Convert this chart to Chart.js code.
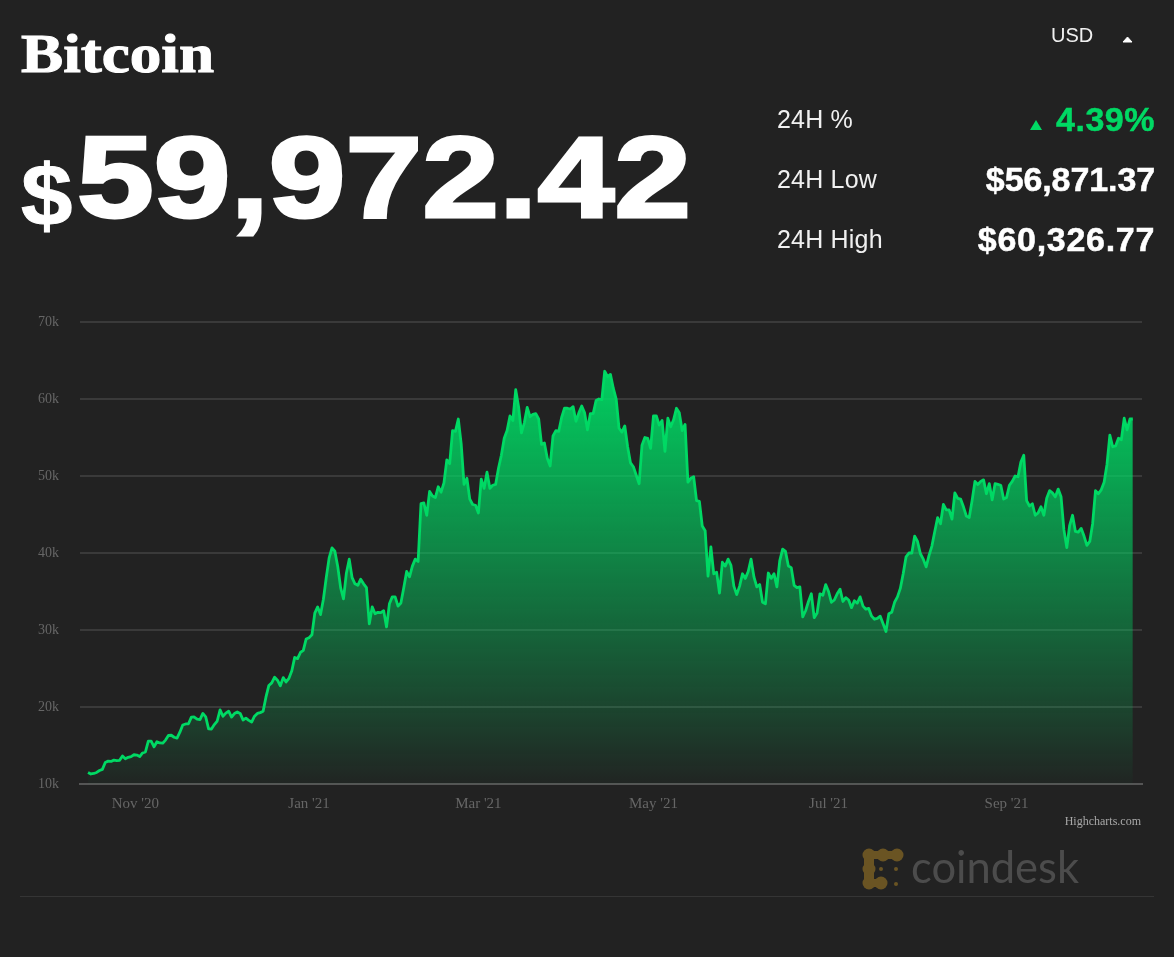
<!DOCTYPE html>
<html>
<head>
<meta charset="utf-8">
<title>Bitcoin</title>
<script src="https://cdn.jsdelivr.net/npm/chart.js@4"></script>
<style>
    html, body { margin: 0; padding: 0; background: #222222; }
    body { width: 1174px; height: 957px; position: relative; overflow: hidden; font-family: "Liberation Sans", sans-serif; color: #fff; }
    .txt { position: absolute; white-space: nowrap; line-height: 1; }
    .right { text-align: right; }
    .label { left: 777px; font-size: 25px; letter-spacing: 0.2px; color: #f0f0f0; }
    .value { right: 19px; font-size: 34px; font-weight: bold; -webkit-text-stroke: 0.5px currentColor; }
    canvas { position: absolute; left: 0; top: 0; }
    svg { position: absolute; }
    #rule { position: absolute; left: 20px; top: 896px; width: 1134px; height: 1px; background: #353535; }
</style>
</head>
<body>
<canvas id="priceChart" width="1174" height="957"></canvas>

<div class="txt" style="left:21px;top:27px;font-family:'Liberation Serif',serif;font-weight:bold;font-size:54px;-webkit-text-stroke:1px #fff;transform:scaleX(1.17);transform-origin:left top;">Bitcoin</div>
<div class="txt" style="left:21px;top:152px;font-weight:bold;font-size:88px;-webkit-text-stroke:1px #fff;transform:scaleX(1.05);transform-origin:left top;">$</div>
<div class="txt" style="left:77px;top:120px;font-weight:bold;font-size:115px;-webkit-text-stroke:3px #fff;transform:scaleX(1.2);transform-origin:left top;">59,972.42</div>

<div class="txt" style="left:1051px;top:25px;font-size:20px;color:#f0f0f0;">USD</div>
<svg style="left:1120px;top:35px" width="16" height="10"><path d="M3 7 L7.5 2 L12 7 Z" fill="#fff" stroke="#fff" stroke-linejoin="round"/></svg>

<div class="txt label" style="top:107px;">24H %</div>
<div class="txt label" style="top:167px;">24H Low</div>
<div class="txt label" style="top:227px;">24H High</div>

<svg style="left:1029px;top:119px" width="14" height="12"><path d="M1 11 L7 1 L13 11 Z" fill="#00d964"/></svg>
<div class="txt value right" style="top:102px;color:#00d964;letter-spacing:0.5px;">4.39%</div>
<div class="txt value right" style="top:162px;letter-spacing:-0.1px;">$56,871.37</div>
<div class="txt value right" style="top:222px;letter-spacing:0.7px;">$60,326.77</div>

<div class="txt right" style="right:33px;top:815px;font-family:'Liberation Serif',serif;font-size:12px;color:#a8a8a8;">Highcharts.com</div>

<svg style="left:860px;top:846px" width="48" height="46">
    <g fill="#6a5423">
        <circle cx="9" cy="9" r="6.5"/><circle cx="23" cy="9" r="6.5"/><circle cx="37" cy="9" r="6.5"/>
        <rect x="9" y="5" width="28" height="8"/>
        <circle cx="9" cy="23" r="6.5"/><circle cx="9" cy="37" r="6.5"/><circle cx="21" cy="37" r="6.5"/>
        <rect x="4" y="9" width="10" height="28"/><rect x="9" y="33" width="12" height="8"/>
        <circle cx="21" cy="23" r="2"/><circle cx="36" cy="23" r="2"/><circle cx="36" cy="38" r="2"/>
    </g>
</svg>
<div class="txt" style="left:911px;top:845px;font-family:'Lato',sans-serif;font-size:43.5px;color:#4c4c4c;">coindesk</div>
<div id="rule"></div>

<script>
// Daily price in thousands of USD (15 Oct 2020 onward)
const prices = [
    11.5, 11.3, 11.37, 11.5, 11.75, 11.9, 12.8, 12.97, 12.93, 13.1, 13.03, 13.07, 13.65, 13.27, 13.46, 13.56, 13.8,
    13.76, 13.56, 14.03, 14.16, 15.58, 15.58, 14.83, 15.48, 15.33, 15.3, 15.7, 16.3, 16.33, 16.07, 15.97, 16.73, 17.66, 17.8, 17.82, 18.68, 18.7, 18.42, 18.37, 19.16, 18.72, 17.15, 17.14, 17.72, 18.18, 19.63,
    18.8, 19.2, 19.45, 18.7, 19.15, 19.36, 19.17, 18.32, 18.55, 18.26, 18.05, 18.8, 19.17, 19.27, 19.44, 21.31, 22.8, 23.13, 23.87, 23.48, 22.75, 23.82, 23.25, 23.73, 24.7, 26.44, 26.28, 27.08, 27.36, 28.84, 29.0,
    29.37, 32.2, 33.0, 32.0, 33.99, 36.82, 39.37, 40.67, 40.24, 38.24, 35.5, 34.05, 37.37, 39.19, 36.8, 36.0, 35.8, 36.6, 36.0, 35.5, 30.8, 33.0, 32.1, 32.3, 32.25, 32.5, 30.4, 33.4, 34.3, 34.3, 33.1,
    33.5, 35.5, 37.6, 36.9, 38.3, 39.2, 38.9, 46.4, 46.5, 44.9, 48.0, 47.4, 47.2, 48.6, 47.9, 49.1, 52.1, 51.6, 55.9, 55.8, 57.4, 54.2, 48.9, 49.7, 47.0, 46.3, 46.2, 45.2,
    49.6, 48.4, 50.5, 48.4, 48.8, 48.9, 51.0, 52.7, 54.9, 55.9, 57.8, 57.2, 61.2, 59.0, 55.6, 56.9, 58.9, 57.7, 58.0, 58.1, 57.4, 54.1, 54.3, 52.3, 51.3, 55.2, 55.9, 55.8, 57.6, 58.8, 58.8,
    58.7, 59.0, 57.1, 58.2, 59.1, 58.2, 56.0, 58.1, 58.1, 59.8, 60.0, 59.9, 63.6, 62.9, 63.2, 61.4, 60.0, 56.2, 55.7, 56.5, 53.8, 51.7, 51.2, 50.1, 49.0, 54.0, 55.0, 54.9, 53.6, 57.8,
    57.8, 56.6, 57.2, 53.2, 57.5, 56.4, 57.3, 58.8, 58.2, 55.9, 56.7, 49.2, 49.7, 49.9, 46.8, 46.7, 43.5, 42.9, 37.0, 40.8, 37.3, 37.5, 34.8, 38.8, 38.3, 39.2, 38.4, 35.7, 34.6, 35.7, 37.3,
    36.7, 37.6, 39.2, 36.9, 35.6, 35.9, 33.6, 33.4, 37.4, 36.7, 37.3, 35.6, 39.0, 40.5, 40.2, 38.3, 38.1, 35.8, 35.5, 35.6, 31.7, 32.5, 33.7, 34.7, 31.6, 32.2, 34.7, 34.5, 35.9, 35.0,
    33.6, 33.9, 34.7, 35.3, 33.7, 34.2, 33.9, 32.9, 33.8, 33.5, 34.3, 33.1, 32.7, 32.8, 31.8, 31.4, 31.5, 31.8, 30.8, 29.8, 32.1, 32.3, 33.6, 34.3, 35.4, 37.3, 39.5, 40.0, 40.0, 42.2, 41.5,
    39.9, 39.2, 38.2, 39.7, 40.9, 42.8, 44.6, 43.8, 46.3, 45.6, 45.6, 44.4, 47.8, 47.1, 47.0, 46.0, 44.8, 44.6, 46.8, 49.3, 48.9, 49.3, 49.5, 47.7, 49.0, 46.9, 49.0, 48.9, 48.8, 47.0, 47.2,
    48.8, 49.3, 50.0, 49.9, 51.8, 52.7, 46.8, 46.1, 46.4, 44.9, 45.2, 46.0, 44.9, 47.1, 48.1, 47.8, 47.3, 48.3, 47.3, 43.0, 40.7, 43.6, 44.9, 42.8, 42.7, 43.2, 42.2, 41.0, 41.5, 43.8,
    48.1, 47.7, 48.2, 49.2, 51.5, 55.3, 53.8, 53.9, 54.9, 54.7, 57.5, 56.0, 57.4, 57.4
];

// Axis ticks
const yTicks = [10, 20, 30, 40, 50, 60, 70];
const monthDays = [16.5, 77, 136, 197, 258, 320];
const monthLabels = ["Nov '20", "Jan '21", "Mar '21", "May '21", "Jul '21", "Sep '21"];

const GREEN = '#00d964';

// Fade the area from the highest point down to the axis
function areaGradient(context) {
    const { chart } = context;
    if (!chart.chartArea) return 'transparent';
    const top = chart.scales.y.getPixelForValue(Math.max(...prices));
    const bottom = chart.chartArea.bottom;
    const gradient = chart.ctx.createLinearGradient(0, top, 0, bottom);
    gradient.addColorStop(0, 'rgba(0, 217, 100, 0.95)');
    gradient.addColorStop(1, 'rgba(0, 217, 100, 0.02)');
    return gradient;
}

new Chart(document.getElementById('priceChart'), {
    type: 'line',
    data: {
        datasets: [{
            data: prices.map((y, x) => ({ x, y })),
            borderColor: GREEN,
            borderWidth: 2.8,
            borderJoinStyle: 'round',
            backgroundColor: areaGradient,
            fill: 'start',
            tension: 0,
            pointRadius: 0
        }]
    },
    options: {
        responsive: false,
        animation: false,
        layout: { padding: { top: 322, right: 32, bottom: 123, left: 0 } },
        plugins: {
            legend: { display: false },
            tooltip: { enabled: false }
        },
        scales: {
            x: {
                type: 'linear',
                min: -2.8,
                max: 367.2,
                afterFit: scale => { scale.height = 50; },
                afterBuildTicks: scale => { scale.ticks = monthDays.map(value => ({ value })); },
                grid: { display: false },
                border: { color: '#555555', width: 2 },
                ticks: {
                    autoSkip: false,
                    maxRotation: 0,
                    padding: 3,
                    color: '#666666',
                    font: { family: 'Liberation Serif', size: 15 },
                    callback: value => monthLabels[monthDays.indexOf(value)]
                }
            },
            y: {
                min: 10,
                max: 70,
                afterFit: scale => { scale.width = 80; },
                afterBuildTicks: scale => { scale.ticks = yTicks.map(value => ({ value })); },
                grid: { color: '#3a3a3a', lineWidth: 2, drawTicks: false },
                border: { display: false },
                ticks: {
                    padding: 21,
                    color: '#666666',
                    font: { family: 'Liberation Serif', size: 14 },
                    callback: value => value + 'k'
                }
            }
        }
    }
});
</script>
</body>
</html>
